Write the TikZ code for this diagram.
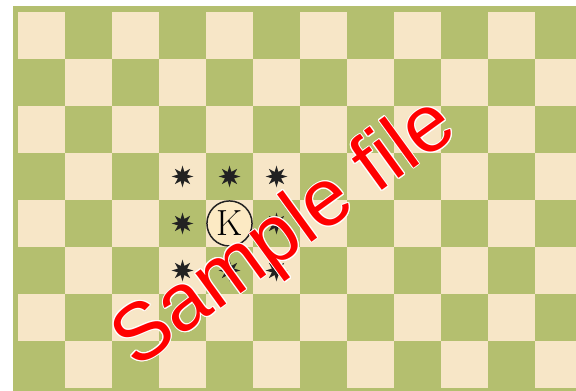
\documentclass[tikz,border=0pt]{standalone}
\usepackage{fontspec}
\usepackage{xcolor}
\usepackage{tikz}
\usetikzlibrary{shapes.geometric}
\newfontfamily\wmfont{Liberation Sans}
\definecolor{BoardGreen}{HTML}{B4BF6F}
\definecolor{BoardLight}{HTML}{F7E6C7}
\definecolor{KingFill}{HTML}{FCEAC4}
\definecolor{StarDark}{HTML}{222222}
\definecolor{MarkRed}{HTML}{FF0000}

\begin{document}
\begin{tikzpicture}[every node/.style={inner sep=0pt},
                    attack/.style={star, star points=8, star point ratio=2.2,
                                   minimum size=0.46cm, fill=StarDark},
                    wmark/.style={font=\wmfont\fontsize{49}{49}\selectfont,
                                  rotate=36, text=MarkRed}]
  \useasboundingbox (-0.383,0.255) rectangle (11.872,-8.064);
  \clip (-0.383,0.255) rectangle (11.872,-8.064);
  % board
  \fill[BoardGreen] (-0.106,0.128) rectangle (12.2,-8.2);
  \foreach \r in {0,...,7}
    \foreach \c in {0,...,11}{
      \pgfmathtruncatemacro\odd{mod(\r+\c,2)}
      \ifnum\odd=0 \fill[BoardLight] (\c,-\r) rectangle ++(1,-1); \fi
    }
  % king and the squares it attacks
  \node[circle, draw=StarDark, line width=0.9pt, fill=KingFill,
        minimum size=0.96cm, font=\fontsize{22}{22}\selectfont]
    (king) at (4.5,-4.5) {K};
  \node[attack] (a1) at (3.5,-3.5) {};
  \node[attack] (a2) at (4.5,-3.5) {};
  \node[attack] (a3) at (5.5,-3.5) {};
  \node[attack] (a4) at (3.5,-4.5) {};
  \node[attack] (a5) at (5.5,-4.5) {};
  \node[attack] (a6) at (3.5,-5.5) {};
  \node[attack] (a7) at (4.5,-5.5) {};
  \node[attack] (a8) at (5.5,-5.5) {};
  % watermark
  \foreach \a in {0,30,...,330}
    \node[wmark, text=white] at ([shift={(\a:0.6pt)}]5.70,-4.74) {Sample file};
  \node[wmark] (wm) at (5.70,-4.74) {Sample file};
\end{tikzpicture}
\end{document}
